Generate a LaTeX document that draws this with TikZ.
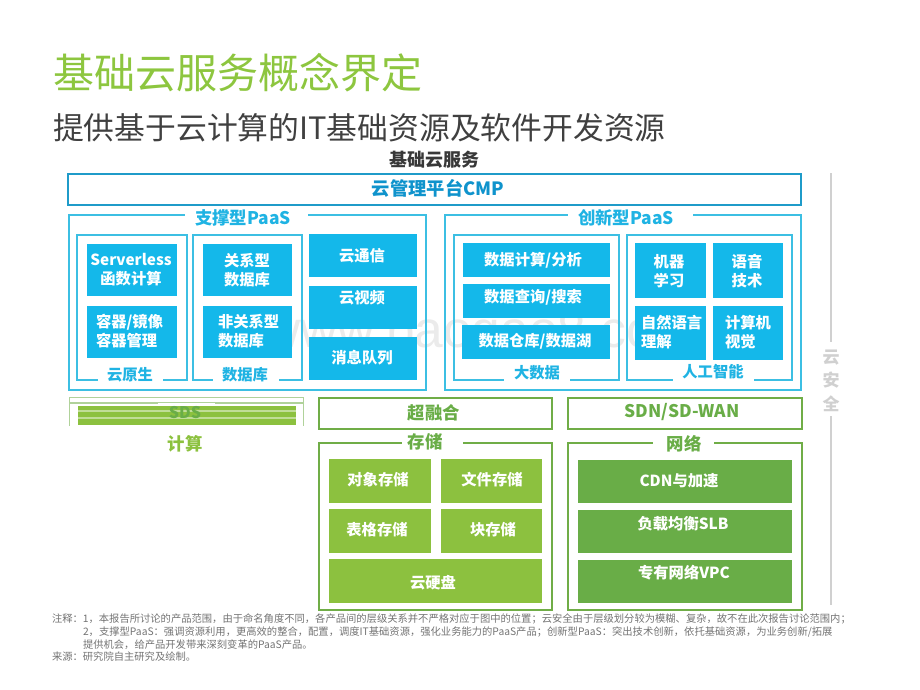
\documentclass[tikz,border=0pt]{standalone}
\usepackage{fontspec}
\setmainfont{Noto Sans CJK SC}
\newfontfamily\wmfont{Liberation Sans}
\definecolor{cmpline}{HTML}{1F9BC9}
\definecolor{cmptext}{HTML}{0F93CC}
\definecolor{paasline}{HTML}{3CBFE3}
\definecolor{bluefill}{HTML}{14B8EA}
\definecolor{bluetext}{HTML}{1FB3E3}
\definecolor{greenline}{HTML}{70AD47}
\definecolor{lightgreen}{HTML}{8CC13F}
\definecolor{darkgreen}{HTML}{69AD47}
\definecolor{titlegreen}{HTML}{8DC63F}
\definecolor{secgray}{HTML}{D0D0D0}
\tikzset{
  base/.style={inner sep=0pt,outer sep=0pt},
  frameblue/.style={base,draw=paasline,line width=1.8pt},
  framecmp/.style={base,draw=cmpline,line width=1.8pt},
  framegreen/.style={base,draw=greenline,line width=1.5pt},
  fillblue/.style={base,fill=bluefill},
  filllight/.style={base,fill=lightgreen},
  filldark/.style={base,fill=darkgreen},
  gapfill/.style={base,fill=white},
  whitetxt/.style={base,text=white,align=center,font=\fontsize{15.3}{19}\selectfont\bfseries},
  whiteleft/.style={whitetxt,align=left,anchor=west},
  bluetxt/.style={base,text=bluetext,font=\fontsize{15.3}{15.3}\selectfont\bfseries},
  headtxt/.style={base,text=bluetext,font=\fontsize{17.4}{17.4}\selectfont\bfseries},
  greentxt/.style={base,text=darkgreen,font=\fontsize{17.4}{17.4}\selectfont\bfseries},
  sectxt/.style={base,text=secgray,font=\fontsize{17}{17}\selectfont\bfseries},
  notetxt/.style={base,anchor=west,text=black!55,font=\fontsize{10.3}{10.3}\selectfont},
}
\newcommand{\bx}[6]{%
  \pgfmathsetmacro{\bxw}{#5-#3}\pgfmathsetmacro{\bxh}{#6-#4}%
  \node[#2,anchor=north west,minimum width=\bxw pt,minimum height=\bxh pt] (#1) at (#3,#4) {};}
\begin{document}
\begin{tikzpicture}[x=1pt,y=-1pt]
\useasboundingbox (0,0) rectangle (920,690);
\node[base,text=black!8,font=\wmfont\fontsize{51.5}{51.5}\selectfont,anchor=base west] (wm) at (263,347) {www.baogao8.com};
\node[base,anchor=west,text=titlegreen,font=\fontsize{41}{41}\selectfont] (title) at (53,73) {基础云服务概念界定};
\node[base,anchor=west,text=black!75,font=\fontsize{30.8}{30.8}\selectfont] (subtitle) at (53,128) {提供基于云计算的IT基础资源及软件开发资源};
\node[base,text=black!78,font=\fontsize{18}{18}\selectfont\bfseries] (top) at (434,160) {基础云服务};
% CMP
\bx{cmp}{framecmp}{68}{174}{801}{205}
\node[base,text=cmptext,font=\fontsize{18.3}{18.3}\selectfont\bfseries] (cmpt) at (438,188) {云管理平台CMP};
% left PaaS
\bx{supp}{frameblue}{69}{215}{426}{390}
\bx{suppgap}{gapfill}{185}{212}{308}{218}
\node[headtxt] (suppt) at (243,218) {支撑型PaaS};
\bx{nat}{frameblue}{77}{235}{187}{380}
\bx{natgap}{gapfill}{98}{377}{163}{383}
\node[bluetxt] (natt) at (130,375) {云原生};
\bx{db}{frameblue}{193}{235}{302}{380}
\bx{dbgap}{gapfill}{213}{377}{279}{383}
\node[bluetxt] (dbt) at (245,375) {数据库};
\bx{b1}{fillblue}{87}{244}{177}{296}
\bx{b2}{fillblue}{87}{306}{177}{358}
\bx{b3}{fillblue}{203}{244}{292}{296}
\bx{b4}{fillblue}{203}{306}{292}{358}
\bx{b5}{fillblue}{309}{234}{417}{277}
\bx{b6}{fillblue}{309}{286}{417}{329}
\bx{b7}{fillblue}{309}{337}{417}{380}
\node[whitetxt] (t1) at (131,269.5) {Serverless\\函数计算};
\node[whiteleft] (t3) at (96,331.5) {容器/镜像\\容器管理};
\node[whitetxt] (t5) at (247,270.5) {关系型\\数据库};
\node[whiteleft] (t7) at (218,331.5) {非关系型\\数据库};
\node[whitetxt] (t9) at (362,256) {云通信};
\node[whitetxt] (t10) at (362,298) {云视频};
\node[whitetxt] (t11) at (362,358) {消息队列};
% right PaaS
\bx{inno}{frameblue}{445}{215}{801}{390}
\bx{innogap}{gapfill}{568}{212}{693}{218}
\node[headtxt] (innot) at (626,218) {创新型PaaS};
\bx{big}{frameblue}{454}{235}{619}{380}
\bx{biggap}{gapfill}{504}{377}{570}{383}
\node[bluetxt] (bigt) at (537,373) {大数据};
\bx{ai}{frameblue}{627}{235}{792}{380}
\bx{aigap}{gapfill}{673}{377}{754}{383}
\node[bluetxt] (ait) at (713,372) {人工智能};
\bx{c1}{fillblue}{463}{243}{610}{277}
\bx{c2}{fillblue}{463}{284}{610}{318}
\bx{c3}{fillblue}{462}{325}{610}{359}
\bx{c4}{fillblue}{635}{243}{706}{298}
\bx{c5}{fillblue}{713}{243}{783}{298}
\bx{c6}{fillblue}{635}{306}{706}{360}
\bx{c7}{fillblue}{713}{306}{783}{360}
\node[whitetxt] (u1) at (533,260) {数据计算/分析};
\node[whitetxt] (u2) at (533,297) {数据查询/搜索};
\node[whitetxt] (u3) at (535,341) {数据仓库/数据湖};
\node[whitetxt] (u4) at (669,271) {机器\\学习};
\node[whitetxt] (u6) at (747,271.5) {语音\\技术};
\node[whiteleft] (u8) at (641,332.5) {自然语言\\理解};
\node[whiteleft] (u10) at (725,332.5) {计算机\\视觉};
% security
\coordinate (s1) at (831,173); \coordinate (s2) at (831,342);
\coordinate (s3) at (831,416); \coordinate (s4) at (831,605);
\draw[secgray,line width=1.8pt] (s1) -- (s2) (s3) -- (s4);
\node[sectxt,align=center,font=\fontsize{17}{23.5}\selectfont\bfseries] (sec) at (831,380.5) {云\\安\\全};
% SDS
\draw[greenline!55,line width=1pt] (69,397.5) rectangle (303,402);
\draw[greenline!55,line width=.8pt] (69,426) -- (69,403.5) -- (158,403.5) (215,403.5) -- (303,403.5) -- (303,426);
\bx{sds}{filllight}{78}{406}{296}{425}
\fill[white,opacity=.7] (78,410.4) rectangle (296,411.6) (78,417.4) rectangle (296,418.6);
\node[base,text=darkgreen,font=\fontsize{16}{16}\selectfont\bfseries] (sdst) at (185,413) {SDS};
\node[base,text=lightgreen,font=\fontsize{17.4}{17.4}\selectfont\bfseries] (calc) at (185,444) {计算};
% green
\bx{hyper}{framegreen}{319}{398}{552}{429}
\node[greentxt] (hypert) at (434,413) {超融合};
\bx{sdn}{framegreen}{568}{398}{802}{429}
\node[greentxt] (sdnt) at (682,412) {SDN/SD-WAN};
\bx{stor}{framegreen}{319}{443}{552}{610}
\bx{storgap}{gapfill}{402}{440}{463}{446}
\node[greentxt] (stort) at (425,442) {存储};
\bx{net}{framegreen}{568}{443}{802}{610}
\bx{netgap}{gapfill}{653}{440}{714}{446}
\node[greentxt] (nett) at (684,444) {网络};
\bx{d1}{filllight}{329}{459}{431}{503}
\bx{d2}{filllight}{441}{459}{542}{503}
\bx{d3}{filllight}{329}{509}{431}{553}
\bx{d4}{filllight}{441}{509}{542}{553}
\bx{d5}{filllight}{329}{559}{542}{603}
\bx{e1}{filldark}{578}{460}{792}{503}
\bx{e2}{filldark}{578}{510}{792}{553}
\bx{e3}{filldark}{578}{560}{792}{603}
\node[whitetxt] (v1) at (378,480) {对象存储};
\node[whitetxt] (v2) at (492,480) {文件存储};
\node[whitetxt] (v3) at (377,530) {表格存储};
\node[whitetxt] (v4) at (493,530) {块存储};
\node[whitetxt] (v5) at (433,583) {云硬盘};
\node[whitetxt] (v6) at (679,481) {CDN与加速};
\node[whitetxt] (v7) at (683,524) {负载均衡SLB};
\node[whitetxt] (v8) at (684,573) {专有网络VPC};
% notes
\node[notetxt] (n1) at (52,619) {注释：1，本报告所讨论的产品范围，由于命名角度不同，各产品间的层级关系并不严格对应于图中的位置；云安全由于层级划分较为模糊、复杂，故不在此次报告讨论范围内；};
\node[notetxt,align=left,font=\fontsize{10.3}{12.8}\selectfont] (n2) at (83,638.5) {2，支撑型PaaS：强调资源利用，更高效的整合，配置，调度IT基础资源，强化业务能力的PaaS产品；创新型PaaS：突出技术创新，依托基础资源，为业务创新/拓展\\提供机会，给产品开发带来深刻变革的PaaS产品。};
\node[notetxt] (n4) at (52,657) {来源：研究院自主研究及绘制。};
\end{tikzpicture}
\end{document}
